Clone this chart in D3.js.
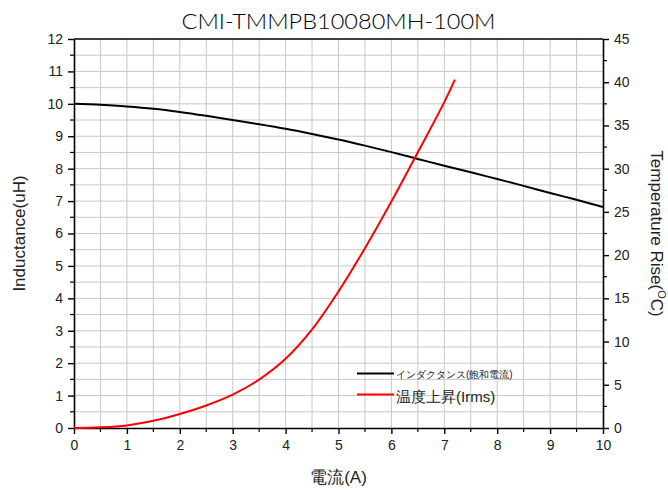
<!DOCTYPE html>
<html>
<head>
<meta charset="utf-8">
<script src="https://cdn.jsdelivr.net/npm/d3@7"></script>
<style>
  body { margin: 0; background: #fff; }
  svg text { font-family: "Liberation Sans", Arial, sans-serif; fill: #222; }
</style>
</head>
<body>
<div id="chart"></div>
<script>
// data
const current = [0, 0.5, 1, 1.5, 2, 2.5, 3, 3.5, 4, 4.5, 5, 5.5, 6, 6.5, 7, 7.5, 8, 8.5, 9, 9.5, 10];
const inductance = [10.0, 9.97, 9.92, 9.85, 9.75, 9.63, 9.50, 9.37, 9.23, 9.07, 8.90, 8.71, 8.51, 8.30, 8.09, 7.89, 7.68, 7.47, 7.25, 7.04, 6.82];
const tempCurrent = [0, 0.5, 1, 1.5, 2, 2.5, 3, 3.5, 4, 4.5, 5, 5.5, 6, 6.5, 7, 7.2];
const tempRise = [0, 0.08, 0.3, 0.83, 1.62, 2.6, 3.85, 5.6, 8.0, 11.4, 15.8, 20.8, 26.2, 31.9, 37.7, 40.3];
const legendLabels = ['インダクタンス(飽和電流)', '温度上昇(Irms)'];

const width = 668, height = 490;
const margin = {top: 39, right: 65, bottom: 62, left: 74};
const innerW = width - margin.left - margin.right;
const innerH = height - margin.top - margin.bottom;

const svg = d3.select('#chart').append('svg')
    .attr('width', width)
    .attr('height', height);

const g = svg.append('g').attr('transform', 'translate(' + margin.left + ',' + margin.top + ')');

const x = d3.scaleLinear().domain([0, 10]).range([0, innerW]);
const yL = d3.scaleLinear().domain([0, 12]).range([innerH, 0]);
const yR = d3.scaleLinear().domain([0, 45]).range([innerH, 0]);

// grid every half unit
const gridX = d3.range(0.5, 10, 0.5);
const gridY = d3.range(0.5, 12, 0.5);
g.append('g').selectAll('line').data(gridX).join('line')
    .attr('x1', d => x(d)).attr('x2', d => x(d))
    .attr('y1', 0).attr('y2', innerH)
    .attr('stroke', '#c8c8c8').attr('stroke-width', 1);
g.append('g').selectAll('line').data(gridY).join('line')
    .attr('y1', d => yL(d)).attr('y2', d => yL(d))
    .attr('x1', 0).attr('x2', innerW)
    .attr('stroke', '#c8c8c8').attr('stroke-width', 1);

// axes
function style_axis(sel) {
    sel.select('.domain').attr('stroke', '#000').attr('stroke-width', 1.6);
    sel.selectAll('.tick line').attr('stroke', '#000').attr('stroke-width', 1.4);
    sel.selectAll('.tick text').attr('font-size', '14px').attr('fill', '#222');
}

function minor_ticks(parent, scale, values, orient, len) {
    parent.append('g').selectAll('line').data(values).join('line')
        .attr('stroke', '#000').attr('stroke-width', 1.2)
        .each(function (d) {
            const l = d3.select(this);
            if (orient === 'bottom') {
                l.attr('x1', scale(d)).attr('x2', scale(d)).attr('y1', innerH).attr('y2', innerH + len);
            } else if (orient === 'left') {
                l.attr('y1', scale(d)).attr('y2', scale(d)).attr('x1', 0).attr('x2', -len);
            } else {
                l.attr('y1', scale(d)).attr('y2', scale(d)).attr('x1', innerW).attr('x2', innerW + len);
            }
        });
}

const xAxis = g.append('g').attr('transform', 'translate(0,' + innerH + ')')
    .call(d3.axisBottom(x).ticks(10).tickSize(6).tickPadding(6).tickSizeOuter(0));
style_axis(xAxis);
minor_ticks(g, x, d3.range(0.5, 10, 1), 'bottom', 4);

const yAxisL = g.append('g')
    .call(d3.axisLeft(yL).ticks(12).tickSize(6).tickPadding(5).tickSizeOuter(0));
style_axis(yAxisL);
minor_ticks(g, yL, d3.range(0.5, 12, 1), 'left', 4);

const yAxisR = g.append('g').attr('transform', 'translate(' + innerW + ',0)')
    .call(d3.axisRight(yR).tickValues(d3.range(0, 46, 5)).tickSize(6).tickPadding(5).tickSizeOuter(0));
style_axis(yAxisR);
minor_ticks(g, yR, d3.range(2.5, 45, 5), 'right', 4);

// top border
g.append('line').attr('x1', 0).attr('x2', innerW).attr('y1', 0).attr('y2', 0)
    .attr('stroke', '#000').attr('stroke-width', 1.6);

// curves
const lineL = d3.line().x((d, i) => x(current[i])).y(d => yL(d)).curve(d3.curveCatmullRom.alpha(0.5));
const lineR = d3.line().x((d, i) => x(tempCurrent[i])).y(d => yR(d)).curve(d3.curveCatmullRom.alpha(0.5));

g.append('path').datum(inductance).attr('d', lineL)
    .attr('fill', 'none').attr('stroke', '#000').attr('stroke-width', 2);
g.append('path').datum(tempRise).attr('d', lineR)
    .attr('fill', 'none').attr('stroke', '#ff0000').attr('stroke-width', 2);

// legend
const legend = g.append('g').attr('transform', 'translate(' + x(5.35) + ',' + yL(1.68) + ')');
legend.append('line').attr('x1', 0).attr('x2', 37).attr('y1', 0).attr('y2', 0)
    .attr('stroke', '#000').attr('stroke-width', 2);
legend.append('text').attr('x', 39).attr('y', 4).attr('font-size', '10px')
    .text(legendLabels[0]);
legend.append('line').attr('x1', 0).attr('x2', 37).attr('y1', 21).attr('y2', 21)
    .attr('stroke', '#ff0000').attr('stroke-width', 2);
legend.append('text').attr('x', 39).attr('y', 28).attr('font-size', '15px')
    .text(legendLabels[1]);

// title
svg.append('text')
    .attr('x', margin.left + innerW / 2).attr('y', 29)
    .attr('text-anchor', 'middle')
    .attr('font-size', '21px')
    .style('font-family', 'Lato, "Open Sans", sans-serif')
    .style('font-weight', 300)
    .style('fill', '#000')
    .attr('textLength', 314)
    .attr('lengthAdjust', 'spacingAndGlyphs')
    .text('CMI-TMMPB10080MH-100M');

// axis titles
svg.append('text')
    .attr('transform', 'translate(25,' + (margin.top + innerH / 2) + ') rotate(-90)')
    .attr('text-anchor', 'middle')
    .attr('font-size', '17px')
    .text('Inductance(uH)');

const rt = svg.append('text')
    .attr('transform', 'translate(651,' + (margin.top + innerH / 2) + ') rotate(90)')
    .attr('text-anchor', 'middle')
    .attr('font-size', '17px');
rt.append('tspan').text('Temperature Rise(');
rt.append('tspan').attr('font-size', '11px').attr('dy', -7).text('O');
rt.append('tspan').attr('dy', 7).text('C)');

svg.append('text')
    .attr('x', margin.left + innerW / 2).attr('y', 483)
    .attr('text-anchor', 'middle')
    .attr('font-size', '17px')
    .text('電流(A)');
</script>
</body>
</html>
